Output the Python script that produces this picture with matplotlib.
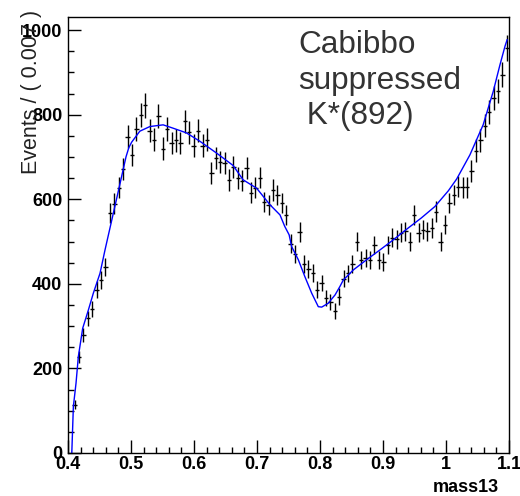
import numpy as np
import matplotlib
matplotlib.use('Agg')
import matplotlib.pyplot as plt
from matplotlib.ticker import MultipleLocator, FuncFormatter

# histogram: 100 bins of 0.007 from 0.4, first bin empty
bin_lo = 0.4
bin_w = 0.007
counts = [114, 227, 279, 319, 341, 386, 409, 440, 568, 590,
          627, 672, 748, 705, 766, 800, 822, 762, 741, 796,
          720, 766, 733, 740, 733, 784, 758, 727, 762, 727,
          741, 662, 697, 689, 686, 646, 677, 650, 644, 674,
          615, 627, 651, 594, 587, 622, 610, 591, 563, 495,
          470, 523, 447, 435, 426, 386, 402, 367, 358, 336,
          370, 412, 425, 447, 500, 457, 461, 457, 492, 457,
          452, 492, 509, 506, 521, 524, 500, 563, 521, 528,
          524, 532, 571, 500, 540, 591, 610, 630, 628, 628,
          666, 715, 740, 774, 806, 840, 856, 895, 958]

# fitted pdf
fit_x = [0.406, 0.4085, 0.4127, 0.4164, 0.4233, 0.4323, 0.4402, 0.4508, 0.4587,
         0.4815, 0.492, 0.4965, 0.501, 0.514, 0.530, 0.551, 0.567, 0.588, 0.6095, 0.636,
         0.662, 0.678, 0.6995, 0.7206, 0.7365, 0.744, 0.751, 0.755, 0.7656, 0.776,
         0.7868, 0.7973, 0.8027, 0.813, 0.824, 0.8317, 0.837, 0.853, 0.874, 0.895,
         0.9163, 0.940, 0.961, 0.9825, 1.0037, 1.017, 1.038, 1.059, 1.075, 1.0857,
         1.0937, 1.097]
fit_y = [0, 110, 165, 228, 295, 338, 378, 425, 480,
         630, 700, 722, 735, 761, 772, 776, 768, 757, 737, 709,
         680, 646, 626, 587, 563, 536, 516, 488, 457, 417,
         378, 346, 345, 354, 374, 394, 409, 433, 457, 480,
         504, 532, 556, 583, 620, 648, 705, 776, 855, 918,
         962, 977]

counts = np.array(counts, dtype=float)
centers = bin_lo + bin_w * (np.arange(len(counts)) + 1.5)

plt.rcParams['font.family'] = ['Liberation Sans', 'DejaVu Sans']

fig = plt.figure(figsize=(5.2, 4.96), dpi=100)
ax = fig.add_axes([0.1308, 0.0867, 0.848, 0.879])

ax.errorbar(centers, counts, xerr=bin_w / 2, yerr=np.sqrt(counts),
            fmt='none', ecolor='black', elinewidth=1.0, capsize=0)
ax.plot(fit_x, fit_y, color='#0000ff', lw=1.0)

ax.set_xlim(0.4, 1.1)
ax.set_ylim(0, 1031)

ax.xaxis.set_major_locator(MultipleLocator(0.1))
ax.xaxis.set_minor_locator(MultipleLocator(0.02))
ax.yaxis.set_major_locator(MultipleLocator(200))
ax.yaxis.set_minor_locator(MultipleLocator(50))
ax.xaxis.set_major_formatter(FuncFormatter(lambda v, p: '%g' % round(v, 2)))

ax.tick_params(which='both', direction='in', width=1.0, top=False, right=False)
ax.tick_params(which='major', length=9.5)
ax.tick_params(which='minor', length=4.5)
ax.tick_params(axis='x', pad=2)
ax.tick_params(axis='y', pad=4)
for lab in ax.get_xticklabels() + ax.get_yticklabels():
    lab.set_fontsize(13)
    lab.set_fontweight('bold')
for sp in ax.spines.values():
    sp.set_linewidth(1.0)

ax.text(-0.082, 1.016, 'Events / ( 0.007 )', transform=ax.transAxes,
        rotation=90, ha='center', va='top', fontsize=15.5, color='#222222')
ax.text(0.977, -0.078, 'mass13', transform=ax.transAxes, ha='right', va='center',
        fontsize=13, fontweight='bold')

ax.text(0.573, 0.94, 'Cabibbo\nsuppressed\n K*(892)', transform=fig.transFigure,
        ha='left', va='top', fontsize=22.7, color='#333333', linespacing=1.25)

fig.savefig('out.png', dpi=100)
